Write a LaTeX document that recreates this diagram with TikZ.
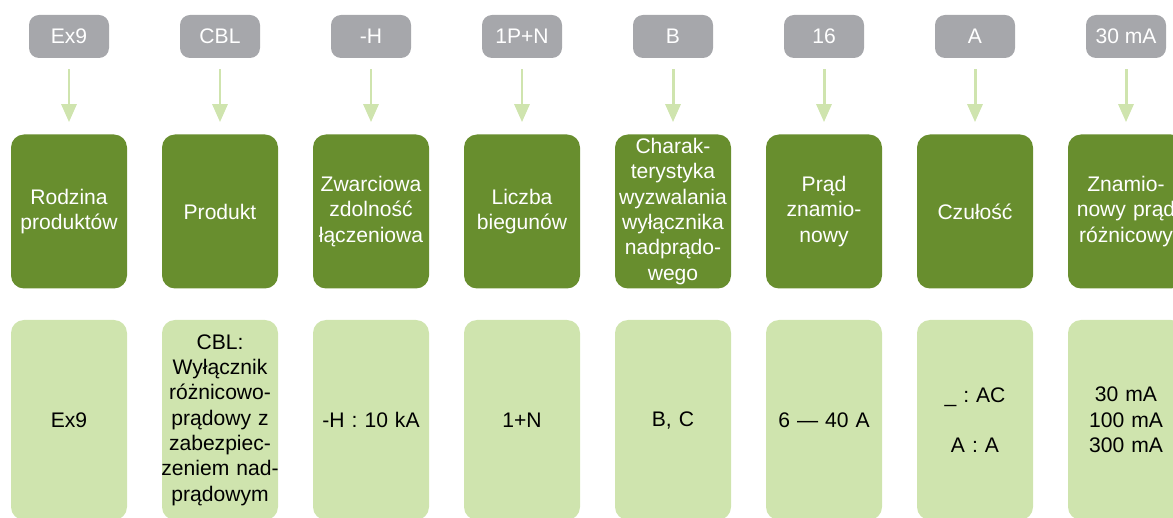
\documentclass[tikz,border=0pt]{standalone}
\usepackage{fontspec}
\setmainfont{Liberation Sans}
\usetikzlibrary{arrows.meta}
\definecolor{codegrey}{RGB}{166,167,171}
\definecolor{darkgreen}{RGB}{104,142,46}
\definecolor{lightgreen}{RGB}{207,228,174}
\frenchspacing

\begin{document}
\begin{tikzpicture}[
  code/.style={fill=codegrey, text=white, rounded corners=0.2cm, minimum width=1.6cm, minimum height=0.86cm, inner sep=0pt, font=\fontsize{12}{14.4}\selectfont},
  field/.style={fill=darkgreen, text=white, rounded corners=0.26cm, minimum width=2.32cm, minimum height=3.08cm, text width=2.52cm, inner xsep=-0.1cm, inner ysep=0pt, align=center, font=\fontsize{12}{14.4}\selectfont},
  choice/.style={fill=lightgreen, text=black, rounded corners=0.26cm, minimum width=2.32cm, minimum height=4.0cm, text width=2.52cm, inner xsep=-0.1cm, inner ysep=0pt, align=center, font=\fontsize{12}{14.4}\selectfont},
  pick/.style={draw=lightgreen, line width=1.7pt, -{Triangle[width=0.3cm,length=0.36cm]}, shorten <=0.22cm, shorten >=0.24cm}
]
\useasboundingbox (0,0) rectangle (23.46,10.36);

%Drawing code parts
\node[code] (c1) at (1.38,9.63) {Ex9};
\node[code] (c2) at (4.40,9.63) {CBL};
\node[code] (c3) at (7.42,9.63) {-H};
\node[code] (c4) at (10.44,9.63) {1P+N};
\node[code] (c5) at (13.46,9.63) {B};
\node[code] (c6) at (16.48,9.63) {16};
\node[code] (c7) at (19.50,9.63) {A};
\node[code] (c8) at (22.52,9.63) {30 mA};

%Drawing field names
\node[field] (f1) at (1.38,6.13) {Rodzina\\produktów};
\node[field] (f2) at (4.40,6.13) {Produkt};
\node[field] (f3) at (7.42,6.13) {Zwarciowa\\zdolność\\łączeniowa};
\node[field] (f4) at (10.44,6.13) {Liczba\\biegunów};
\node[field] (f5) at (13.46,6.13) {Charak-\\terystyka\\wyzwalania\\wyłącznika\\nadprądo-\\wego};
\node[field] (f6) at (16.48,6.13) {Prąd\\znamio-\\nowy};
\node[field] (f7) at (19.50,6.13) {Czułość};
\node[field] (f8) at (22.52,6.13) {Znamio-\\nowy prąd\\różnicowy};

%Drawing options
\node[choice] (o1) at (1.38,1.96) {Ex9};
\node[choice] (o2) at (4.40,1.96) {CBL:\\Wyłącznik\\różnicowo-\\prądowy z\\zabezpiec-\\zeniem nad-\\prądowym};
\node[choice] (o3) at (7.42,1.96) {-H : 10 kA};
\node[choice] (o4) at (10.44,1.96) {1+N};
\node[choice] (o5) at (13.46,1.96) {B, C};
\node[choice] (o6) at (16.48,1.96) {6 — 40 A};
\node[choice] (o7) at (19.50,1.96) {\_ : AC\\[14.4pt]A : A};
\node[choice] (o8) at (22.52,1.96) {30 mA\\100 mA\\300 mA};

%connecting them
\draw[pick] (c1) -- (f1);
\draw[pick] (c2) -- (f2);
\draw[pick] (c3) -- (f3);
\draw[pick] (c4) -- (f4);
\draw[pick] (c5) -- (f5);
\draw[pick] (c6) -- (f6);
\draw[pick] (c7) -- (f7);
\draw[pick] (c8) -- (f8);
\end{tikzpicture}
\end{document}
